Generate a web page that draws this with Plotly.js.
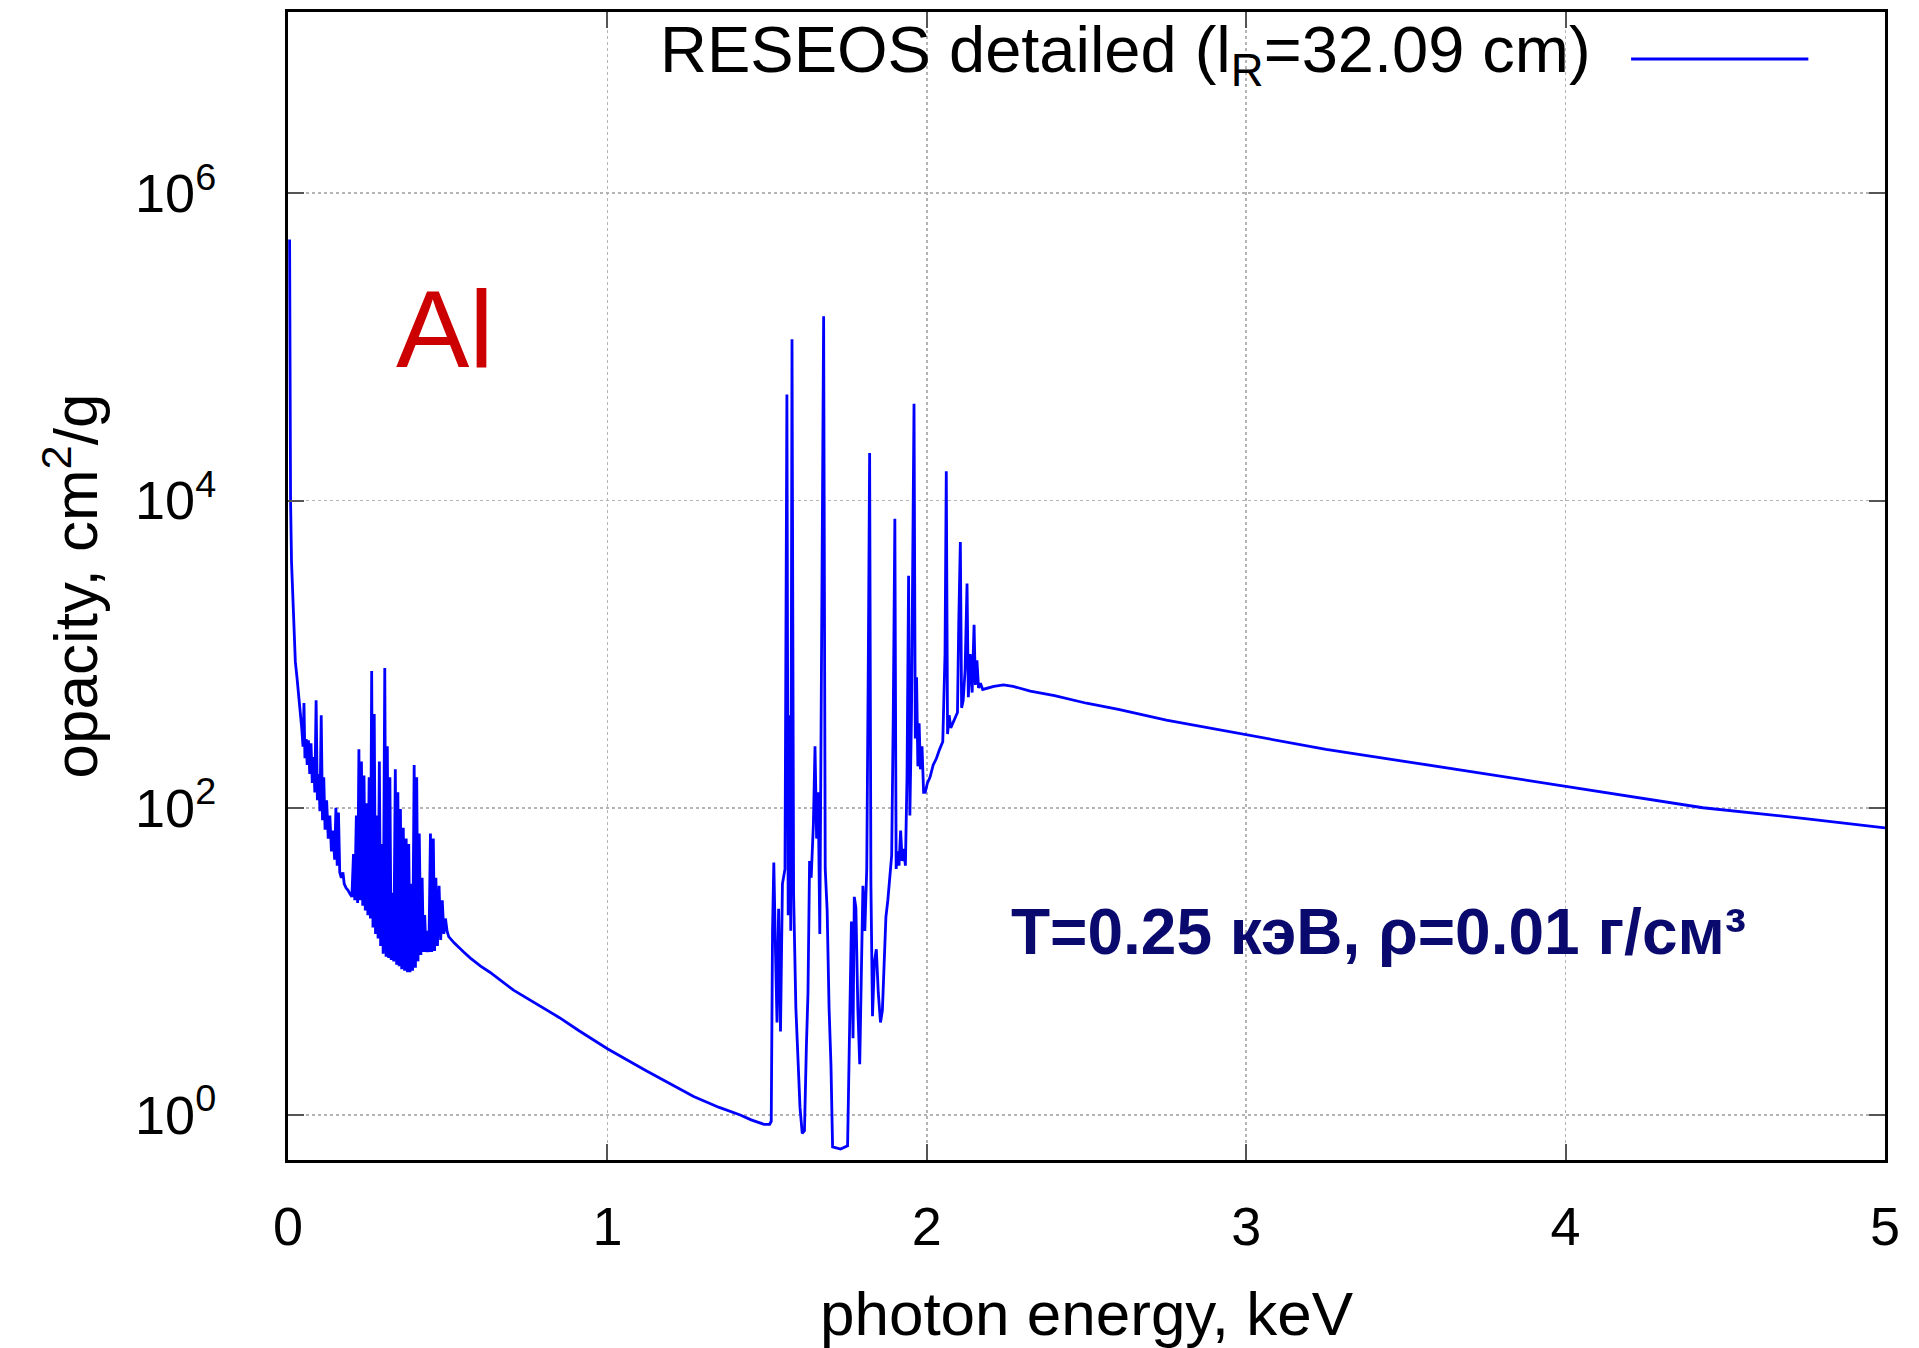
<!DOCTYPE html>
<html>
<head>
<meta charset="utf-8">
<script src="https://cdn.plot.ly/plotly-3.0.1.min.js"></script>
<style>html,body{margin:0;padding:0;background:#fff}#chart{width:1919px;height:1348px}</style>
</head>
<body>
<div id="chart"></div>
<script>
// photon energy, keV
const energy = [
  0.005, 0.006, 0.008, 0.011, 0.015, 0.019, 0.023, 0.028, 0.033, 0.038,
  0.043, 0.047, 0.050, 0.053, 0.057, 0.060, 0.064, 0.068, 0.072, 0.076,
  0.080, 0.084, 0.088, 0.092, 0.096, 0.100, 0.104, 0.108, 0.112, 0.116,
  0.121, 0.126, 0.131, 0.136, 0.141, 0.146, 0.150, 0.154, 0.158, 0.162,
  0.167, 0.172, 0.176, 0.182, 0.188, 0.194, 0.200, 0.205, 0.209, 0.214,
  0.218, 0.222, 0.226, 0.230, 0.234, 0.238, 0.242, 0.246, 0.250, 0.254,
  0.258, 0.262, 0.266, 0.270, 0.274, 0.278, 0.282, 0.286, 0.290, 0.294,
  0.298, 0.303, 0.307, 0.311, 0.315, 0.319, 0.323, 0.327, 0.331, 0.336,
  0.340, 0.344, 0.348, 0.352, 0.356, 0.361, 0.365, 0.370, 0.374, 0.378,
  0.382, 0.386, 0.390, 0.395, 0.399, 0.403, 0.407, 0.411, 0.416, 0.420,
  0.424, 0.428, 0.432, 0.437, 0.441, 0.446, 0.450, 0.455, 0.459, 0.463,
  0.468, 0.473, 0.478, 0.483, 0.488, 0.493, 0.498, 0.503, 0.520, 0.550,
  0.571, 0.603, 0.632, 0.706, 0.770, 0.850, 0.910, 1.000, 1.120, 1.200,
  1.270, 1.350, 1.416, 1.450, 1.490, 1.508, 1.513, 1.517, 1.521, 1.526,
  1.531, 1.536, 1.542, 1.548, 1.556, 1.562, 1.566, 1.570, 1.574, 1.578,
  1.583, 1.590, 1.597, 1.603, 1.610, 1.617, 1.623, 1.628, 1.633, 1.638,
  1.645, 1.650, 1.655, 1.660, 1.665, 1.672, 1.677, 1.682, 1.688, 1.694,
  1.700, 1.705, 1.730, 1.752, 1.756, 1.760, 1.764, 1.769, 1.773, 1.778,
  1.784, 1.790, 1.795, 1.800, 1.806, 1.812, 1.817, 1.821, 1.825, 1.830,
  1.836, 1.842, 1.848, 1.855, 1.861, 1.866, 1.872, 1.878, 1.884, 1.890,
  1.895, 1.900, 1.904, 1.908, 1.913, 1.918, 1.923, 1.928, 1.933, 1.938,
  1.943, 1.947, 1.952, 1.956, 1.960, 1.964, 1.968, 1.972, 1.976, 1.980,
  1.985, 1.990, 1.995, 2.002, 2.010, 2.020, 2.030, 2.040, 2.050, 2.057,
  2.061, 2.065, 2.070, 2.075, 2.082, 2.090, 2.096, 2.100, 2.105, 2.109,
  2.114, 2.120, 2.126, 2.130, 2.136, 2.142, 2.148, 2.152, 2.157, 2.162,
  2.168, 2.175, 2.190, 2.210, 2.240, 2.270, 2.324, 2.400, 2.500, 2.600,
  2.750, 3.000, 3.250, 3.500, 3.750, 4.000, 4.250, 4.430, 4.750, 5.000
];
// opacity, cm^2/g
const opacity = [
  500000, 30000, 10000, 4000, 2200, 1200, 890, 710, 560, 420,
  330, 250, 480, 210, 280, 190, 275, 166, 263, 145,
  214, 126, 500, 112, 166, 95, 400, 83, 158, 72,
  112, 63, 89, 52, 71, 46, 100, 42, 93, 38,
  35, 38, 32, 30, 29, 27.5, 26.3, 50, 25, 89,
  24, 240, 25, 200, 23, 162, 21.4, 107, 20, 158,
  19, 776, 16.6, 407, 15.1, 89, 14.1, 200, 12.6, 58,
  11.2, 813, 10.7, 251, 10.5, 158, 10.2, 28, 10, 178,
  9.5, 126, 9.3, 98, 8.9, 74, 8.7, 63, 8.5, 58,
  8.5, 32, 8.7, 190, 9.1, 158, 10, 68, 11, 35,
  11.5, 20, 11.5, 15.8, 11.5, 68, 11.5, 63, 11.7, 35,
  12.6, 31, 13.8, 25, 15.1, 19, 15.8, 14.5, 13.2, 11.5,
  10.5, 9.3, 8.5, 6.5, 5.4, 4.3, 3.55, 2.7, 1.95, 1.58,
  1.32, 1.12, 1.0, 0.93, 0.87, 0.87, 0.91, 15.8, 44, 12.6,
  4.0, 22, 3.5, 32, 40, 49000, 20, 400, 15.8, 112000,
  27.5, 5.0, 2.45, 1.12, 0.76, 0.79, 2.8, 6.2, 45, 35,
  79, 251, 63, 126, 15.1, 3160, 158000, 40, 21.4, 5.0,
  2.1, 0.62, 0.60, 0.63, 2.0, 10, 18.2, 3.16, 26.3, 22.4,
  5.0, 2.14, 7.9, 31, 15.8, 40, 1000, 20400, 32, 4.4,
  10, 12, 6.3, 4.0, 4.8, 10, 19.5, 25, 35, 49,
  400, 7600, 40, 52, 42, 71, 45, 54, 42, 158,
  3240, 89, 400, 2500, 42700, 282, 708, 186, 355, 178,
  251, 126, 126, 145, 158, 190, 209, 240, 269, 1000,
  15500, 302, 400, 331, 355, 389, 417, 1580, 5370, 447,
  501, 794, 2880, 525, 1000, 562, 1550, 631, 912, 603,
  646, 589, 603, 617, 631, 617, 575, 537, 479, 437,
  372, 299, 240, 200, 166, 138, 115, 100, 85, 74
];

const xTickVals = [0, 1, 2, 3, 4, 5];
const xTickText = ['0', '1', '2', '3', '4', '5'];
const yTickVals = [1, 100, 10000, 1000000];
const yTickText = ['10<sup>0</sup>', '10<sup>2</sup>', '10<sup>4</sup>', '10<sup>6</sup>'];

const seriesName = 'RESEOS detailed (l<sub>R</sub>=32.09 cm)';
const elementLabel = 'Al';
const conditionsLabel = 'T=0.25 кэВ, ρ=0.01 г/см³';

const FONT = '"Liberation Sans", Arial, Helvetica, sans-serif';

const trace = {
  x: energy,
  y: opacity,
  type: 'scatter',
  mode: 'lines',
  name: seriesName,
  showlegend: false,
  line: {color: '#0000ff', width: 2.8}
};

const axisCommon = {
  showline: true,
  linecolor: '#000',
  linewidth: 3,
  mirror: 'ticks',
  ticks: 'inside',
  ticklen: 16,
  tickwidth: 2,
  tickcolor: '#555',
  showgrid: true,
  gridcolor: '#b4b4b4',
  gridwidth: 1.6,
  griddash: 'dot',
  zeroline: false,
  tickfont: {family: FONT, size: 54, color: '#000'}
};

const layout = {
  width: 1919,
  height: 1348,
  paper_bgcolor: '#fff',
  plot_bgcolor: '#fff',
  margin: {l: 288, r: 34, t: 12, b: 188},
  showlegend: false,
  xaxis: Object.assign({}, axisCommon, {
    range: [0, 5],
    tickmode: 'array',
    tickvals: xTickVals,
    ticktext: xTickText,
    ticklabelstandoff: 17,
    title: {text: 'photon energy, keV', font: {family: FONT, size: 62, color: '#000'}, standoff: 38}
  }),
  yaxis: Object.assign({}, axisCommon, {
    type: 'log',
    range: [-0.293, 7.18],
    tickmode: 'array',
    tickvals: yTickVals,
    ticktext: yTickText,
    ticklabelstandoff: 58,
    title: {text: 'opacity, cm<sup>2</sup>/g', font: {family: FONT, size: 62, color: '#000'}, standoff: 18}
  }),
  shapes: [{
    type: 'line', xref: 'paper', yref: 'paper',
    x0: 0.841, x1: 0.952, y0: 0.959, y1: 0.959,
    line: {color: '#0000ff', width: 3}
  }],
  annotations: [
    {
      xref: 'paper', yref: 'paper', x: 0.817, y: 0.9626,
      xanchor: 'right', yanchor: 'middle', showarrow: false,
      text: seriesName,
      font: {family: FONT, size: 65, color: '#000'}
    },
    {
      xref: 'x', yref: 'y', x: 0.493, y: 5.12,
      xanchor: 'center', yanchor: 'middle', showarrow: false,
      text: elementLabel,
      font: {family: FONT, size: 110, color: '#cc0000'}
    },
    {
      xref: 'x', yref: 'y', x: 3.414, y: 1.19,
      xanchor: 'center', yanchor: 'middle', showarrow: false,
      text: '<b>' + conditionsLabel + '</b>',
      font: {family: FONT, size: 64, color: '#0a0a6e'}
    }
  ]
};

Plotly.newPlot('chart', [trace], layout, {displayModeBar: false, staticPlot: true});
</script>
</body>
</html>
